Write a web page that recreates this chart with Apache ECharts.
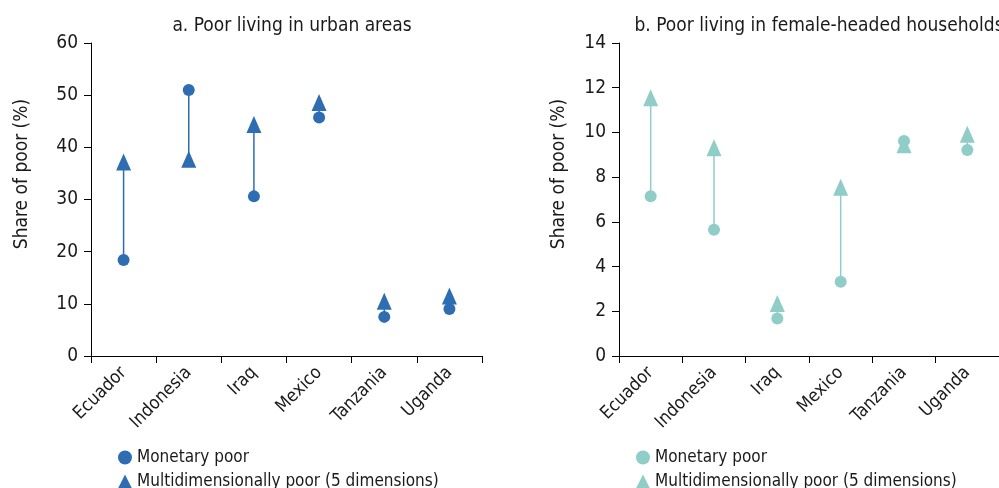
<!DOCTYPE html>
<html>
<head>
<meta charset="utf-8">
<script src="https://cdn.jsdelivr.net/npm/echarts@6/dist/echarts.min.js"></script>
<style>
  html, body { margin: 0; padding: 0; background: #fff; }
  #chart { width: 999px; height: 488px; }
</style>
</head>
<body>
<div id="chart"></div>
<script>
// ---- data ----
var countries = ['Ecuador', 'Indonesia', 'Iraq', 'Mexico', 'Tanzania', 'Uganda'];
var urbanMonetary = [18.4, 51.0, 30.6, 45.7, 7.5, 9.0];
var urbanMulti = [37.2, 37.7, 44.4, 48.6, 10.5, 11.5];
var femaleMonetary = [7.15, 5.65, 1.68, 3.32, 9.62, 9.21];
var femaleMulti = [11.55, 9.32, 2.35, 7.55, 9.45, 9.92];
var urbanTicks = [0, 10, 20, 30, 40, 50, 60];
var femaleTicks = [0, 2, 4, 6, 8, 10, 12, 14];
var titleA = 'a. Poor living in urban areas';
var titleB = 'b. Poor living in female-headed households';
var yName = 'Share of poor (%)';
var nameMon = 'Monetary poor';
var nameMulti = 'Multidimensionally poor (5 dimensions)';

var BLUE = '#2f6db3';
var TEAL = '#8fcdc6';
var FONT = '"DejaVu Sans Condensed", "Liberation Sans", sans-serif';
var TXT = '#1a1a1a';

function pairs(a, b) {
  return a.map(function (v, i) { return [i, v, b[i]]; });
}

function connector(color) {
  return function (params, api) {
    var p1 = api.coord([api.value(0), api.value(1)]);
    var p2 = api.coord([api.value(0), api.value(2)]);
    return {
      type: 'line',
      shape: { x1: p1[0], y1: p1[1], x2: p2[0], y2: p2[1] },
      style: { stroke: color, lineWidth: 1.5 }
    };
  };
}

function xAxisCfg(gi) {
  return {
    type: 'category', gridIndex: gi, data: countries, boundaryGap: true,
    axisLine: { show: true, lineStyle: { color: '#000', width: 1 } },
    axisTick: { show: true, alignWithLabel: false, interval: 0, length: 7, lineStyle: { color: '#000' } },
    axisLabel: { interval: 0, rotate: 45, margin: 14, padding: [17, 0, 0, 0],
      color: TXT, fontFamily: FONT, fontSize: 18 },
    splitLine: { show: false }
  };
}

function yAxisCfg(gi, ticks, gap) {
  return {
    type: 'value', gridIndex: gi, min: ticks[0], max: ticks[ticks.length - 1],
    interval: ticks[1] - ticks[0],
    name: yName, nameLocation: 'middle', nameGap: gap,
    nameTextStyle: { color: TXT, fontFamily: FONT, fontSize: 19, padding: [0, 0, 0, 51] },
    axisLine: { show: true, lineStyle: { color: '#000', width: 1 } },
    axisTick: { show: true, length: 7, lineStyle: { color: '#000' } },
    axisLabel: { color: TXT, fontFamily: FONT, fontSize: 19, margin: 13 },
    splitLine: { show: false }
  };
}

function legendCfg(left, top, name, icon, color) {
  return {
    orient: 'vertical', left: left, top: top, padding: 0,
    itemWidth: 14, itemHeight: 14, itemGap: 0,
    textStyle: { color: TXT, fontFamily: FONT, fontSize: 17 },
    data: [{ name: name, icon: icon, itemStyle: { color: color } }],
    selectedMode: false
  };
}

var chart = echarts.init(document.getElementById('chart'), null, { renderer: 'canvas' });
chart.setOption({
  animation: false,
  backgroundColor: '#fff',
  title: [
    { text: titleA, left: 287, top: 12, textAlign: 'center',
      textStyle: { color: TXT, fontFamily: FONT, fontSize: 19, fontWeight: 'normal' } },
    { text: titleB, left: 814, top: 12, textAlign: 'center',
      textStyle: { color: TXT, fontFamily: FONT, fontSize: 19, fontWeight: 'normal' } }
  ],
  legend: [
    legendCfg(118, 449, nameMon, 'circle', BLUE),
    legendCfg(118, 473, nameMulti, 'triangle', BLUE),
    legendCfg(636, 449, nameMon, 'circle', TEAL),
    legendCfg(636, 473, nameMulti, 'triangle', TEAL)
  ],
  grid: [
    { left: 91, top: 43, width: 391, height: 313 },
    { left: 619, top: 43, width: 390, height: 313 }
  ],
  xAxis: [xAxisCfg(0), xAxisCfg(1)],
  yAxis: [yAxisCfg(0, urbanTicks, 59), yAxisCfg(1, femaleTicks, 50)],
  series: [
    { type: 'custom', xAxisIndex: 0, yAxisIndex: 0, renderItem: connector(BLUE),
      data: pairs(urbanMonetary, urbanMulti), encode: { x: 0, y: [1, 2] }, z: 1 },
    { type: 'scatter', name: nameMulti, xAxisIndex: 0, yAxisIndex: 0, symbol: 'triangle',
      symbolSize: [15, 17], itemStyle: { color: BLUE, opacity: 1 }, data: urbanMulti, z: 2 },
    { type: 'scatter', name: nameMon, xAxisIndex: 0, yAxisIndex: 0, symbol: 'circle',
      symbolSize: 12, itemStyle: { color: BLUE, opacity: 1 }, data: urbanMonetary, z: 3 },

    { type: 'custom', xAxisIndex: 1, yAxisIndex: 1, renderItem: connector(TEAL),
      data: pairs(femaleMonetary, femaleMulti), encode: { x: 0, y: [1, 2] }, z: 1 },
    { type: 'scatter', name: nameMulti, xAxisIndex: 1, yAxisIndex: 1, symbol: 'triangle',
      symbolSize: [15, 17], itemStyle: { color: TEAL, opacity: 1 }, data: femaleMulti, z: 2 },
    { type: 'scatter', name: nameMon, xAxisIndex: 1, yAxisIndex: 1, symbol: 'circle',
      symbolSize: 12, itemStyle: { color: TEAL, opacity: 1 }, data: femaleMonetary, z: 3 }
  ]
});
</script>
</body>
</html>
